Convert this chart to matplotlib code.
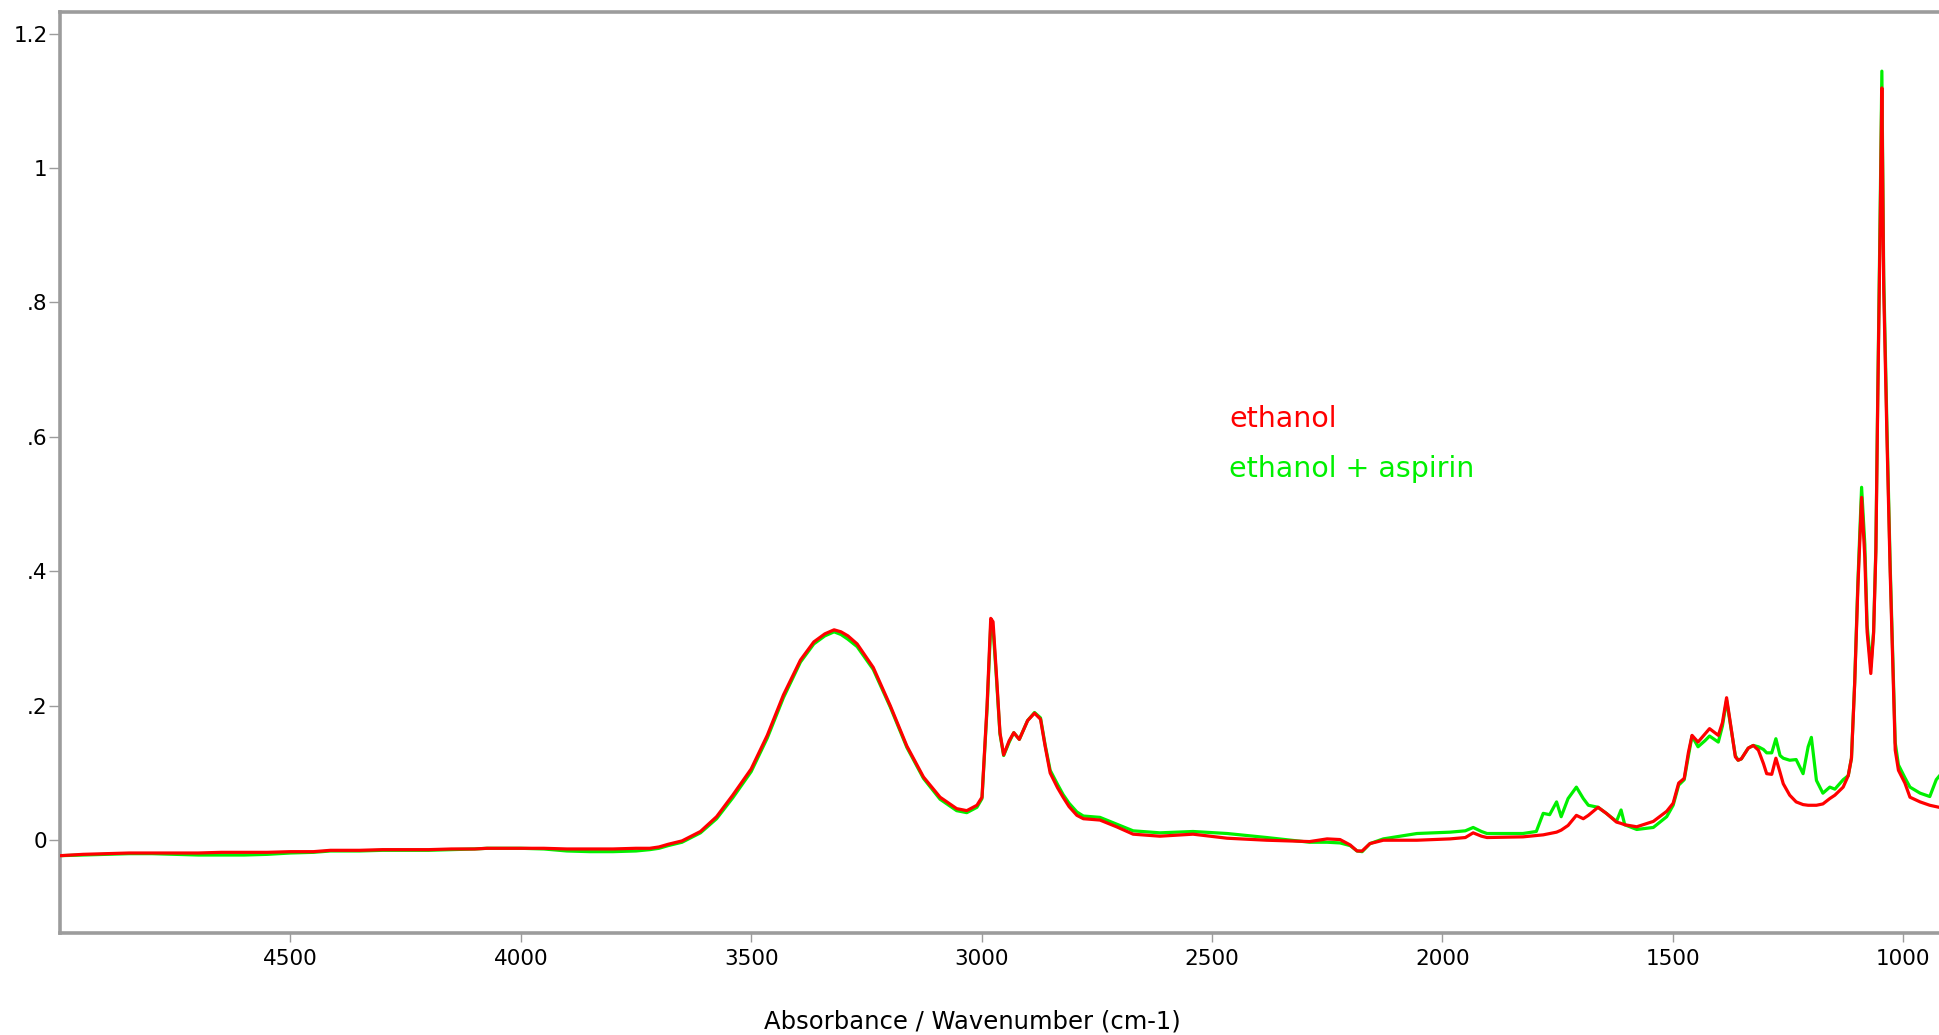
import matplotlib
matplotlib.use("Agg")
import matplotlib.pyplot as plt

# IR absorbance spectra, wavenumber in cm-1 (descending)
wavenumber = [
    5000, 4950, 4900, 4850, 4800, 4750, 4700, 4650, 4600, 4550,
    4500, 4450, 4413, 4350, 4300, 4250, 4200, 4150, 4100, 4073,
    4000, 3950, 3900, 3850, 3800, 3750, 3720, 3700, 3680, 3650,
    3610, 3575, 3540, 3500, 3465, 3430, 3393, 3364, 3340, 3320,
    3305, 3290, 3270, 3235, 3198, 3162, 3126, 3090, 3054, 3032,
    3010, 2999, 2988, 2980, 2975, 2968, 2960, 2952, 2940, 2930,
    2918, 2900, 2885, 2872, 2862, 2851, 2835, 2823, 2810, 2793,
    2779, 2743, 2707, 2671, 2613, 2541, 2467, 2381, 2288, 2250,
    2222, 2200, 2185, 2174, 2157, 2128, 2055, 1983, 1950, 1933,
    1915, 1903, 1825, 1796, 1781, 1767, 1752, 1742, 1727, 1709,
    1694, 1683, 1662, 1644, 1622, 1612, 1604, 1578, 1542, 1513,
    1499, 1487, 1475, 1466, 1458, 1445, 1430, 1420, 1401, 1392,
    1383, 1376, 1364, 1358, 1351, 1336, 1325, 1314, 1303, 1296,
    1285, 1276, 1267, 1260, 1246, 1232, 1217, 1206, 1199, 1188,
    1174, 1159, 1148, 1130, 1119, 1112, 1105, 1098, 1090, 1083,
    1078, 1070, 1064, 1059, 1055, 1050, 1046, 1042, 1035, 1028,
    1021, 1017, 1010, 996, 985, 963, 942, 928, 922,
]

ethanol = [
    -0.023, -0.021, -0.020, -0.019, -0.019, -0.019, -0.019, -0.018, -0.018, -0.018,
    -0.017, -0.017, -0.015, -0.015, -0.014, -0.014, -0.014, -0.013, -0.013, -0.012,
    -0.012, -0.012, -0.013, -0.013, -0.013, -0.012, -0.012, -0.010, -0.006, -0.001,
    0.013, 0.035, 0.067, 0.106, 0.156, 0.216, 0.268, 0.295, 0.307, 0.313,
    0.310, 0.304, 0.292, 0.257, 0.200, 0.140, 0.094, 0.064, 0.047, 0.044,
    0.052, 0.064, 0.200, 0.330, 0.325, 0.250, 0.160, 0.127, 0.148, 0.160,
    0.150, 0.178, 0.189, 0.180, 0.140, 0.100, 0.078, 0.064, 0.050, 0.037,
    0.032, 0.030, 0.020, 0.009, 0.006, 0.009, 0.003, 0.000, -0.002, 0.002,
    0.001, -0.007, -0.016, -0.016, -0.005, 0.000, 0.000, 0.002, 0.004, 0.011,
    0.006, 0.004, 0.005, 0.007, 0.008, 0.010, 0.012, 0.015, 0.022, 0.037,
    0.032, 0.037, 0.049, 0.040, 0.027, 0.025, 0.023, 0.020, 0.028, 0.043,
    0.055, 0.085, 0.092, 0.130, 0.156, 0.146, 0.158, 0.166, 0.156, 0.175,
    0.212, 0.180, 0.124, 0.119, 0.121, 0.137, 0.141, 0.134, 0.114, 0.099,
    0.098, 0.122, 0.101, 0.084, 0.067, 0.057, 0.053, 0.052, 0.052, 0.052,
    0.054, 0.062, 0.067, 0.079, 0.096, 0.122, 0.233, 0.377, 0.510, 0.420,
    0.310, 0.248, 0.307, 0.430, 0.650, 0.900, 1.119, 0.820, 0.600, 0.400,
    0.233, 0.134, 0.104, 0.085, 0.064, 0.057, 0.052, 0.050, 0.049,
]

ethanol_aspirin = [
    -0.023, -0.022, -0.021, -0.020, -0.020, -0.021, -0.022, -0.022, -0.022, -0.021,
    -0.019, -0.018, -0.016, -0.016, -0.015, -0.015, -0.015, -0.014, -0.013, -0.012,
    -0.012, -0.013, -0.016, -0.017, -0.017, -0.016, -0.014, -0.012, -0.008, -0.003,
    0.011, 0.032, 0.063, 0.102, 0.152, 0.212, 0.265, 0.292, 0.304, 0.310,
    0.306, 0.299, 0.288, 0.254, 0.198, 0.138, 0.092, 0.061, 0.044, 0.041,
    0.049, 0.062, 0.195, 0.320, 0.315, 0.245, 0.158, 0.126, 0.146, 0.160,
    0.150, 0.178, 0.190, 0.182, 0.142, 0.104, 0.083, 0.068, 0.055, 0.042,
    0.036, 0.034, 0.024, 0.014, 0.011, 0.013, 0.010, 0.004, -0.003, -0.003,
    -0.004, -0.008, -0.016, -0.017, -0.005, 0.002, 0.010, 0.012, 0.014, 0.019,
    0.013, 0.010, 0.010, 0.013, 0.040, 0.038, 0.057, 0.035, 0.062, 0.079,
    0.062, 0.052, 0.049, 0.040, 0.028, 0.045, 0.023, 0.016, 0.019, 0.035,
    0.052, 0.082, 0.090, 0.125, 0.155, 0.139, 0.148, 0.155, 0.146, 0.170,
    0.208, 0.178, 0.126, 0.119, 0.121, 0.137, 0.141, 0.139, 0.135, 0.130,
    0.130, 0.151, 0.126, 0.122, 0.119, 0.120, 0.099, 0.139, 0.153, 0.089,
    0.070, 0.079, 0.076, 0.090, 0.096, 0.122, 0.235, 0.385, 0.525, 0.440,
    0.320, 0.258, 0.310, 0.435, 0.660, 0.920, 1.144, 0.840, 0.615, 0.410,
    0.240, 0.145, 0.112, 0.093, 0.079, 0.070, 0.065, 0.090, 0.095,
]

x_ticks = [4500, 4000, 3500, 3000, 2500, 2000, 1500, 1000]
y_ticks = [0, 0.2, 0.4, 0.6, 0.8, 1.0, 1.2]
y_tick_labels = ["0", ".2", ".4", ".6", ".8", "1", "1.2"]

plt.rcParams["font.family"] = ["DejaVu Sans"]

fig = plt.figure(figsize=(19.39, 10.35), dpi=100)
ax = fig.add_axes([60 / 1939, 1 - 933 / 1035, 1 - 60 / 1939, (933 - 12) / 1035])

ax.plot(wavenumber, ethanol_aspirin, color="#00f000", lw=2.3, zorder=2)
ax.plot(wavenumber, ethanol, color="#ff0000", lw=2.3, zorder=3)

ax.set_xlim(5000, 922)
ax.set_ylim(-0.138, 1.232)

ax.set_xticks(x_ticks)
ax.set_xticklabels([str(t) for t in x_ticks])
ax.set_yticks(y_ticks)
ax.set_yticklabels(y_tick_labels)

for side in ("left", "top", "bottom"):
    ax.spines[side].set_color("#9c9c9c")
    ax.spines[side].set_linewidth(2.6)
ax.spines["right"].set_visible(False)

ax.tick_params(axis="x", direction="out", length=6.5, width=1.0, color="#9c9c9c",
               labelsize=15.5, pad=5)
ax.tick_params(axis="y", direction="out", length=8, width=1.0, color="#9c9c9c",
               labelsize=15.5, pad=1)

ax.text(2463, 0.615, "ethanol", color="#ff0000", fontsize=20.5, va="baseline")
ax.text(2463, 0.540, "ethanol + aspirin", color="#00f000", fontsize=20.5, va="baseline")

fig.text(972 / 1939, 1 - 1021 / 1035, "Absorbance / Wavenumber (cm-1)",
         ha="center", va="center", fontsize=17.5)

fig.savefig("out.png", dpi=100)
plt.close(fig)
